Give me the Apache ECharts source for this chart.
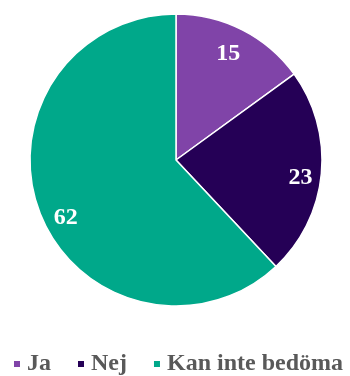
<!DOCTYPE html>
<html>
<head>
<meta charset="utf-8">
<script src="https://cdn.jsdelivr.net/npm/echarts@6/dist/echarts.min.js"></script>
<style>
  html, body { margin: 0; padding: 0; background: #fff; }
  #chart { width: 350px; height: 376px; }
</style>
</head>
<body>
<div id="chart"></div>
<script>
  var categories = ['Ja', 'Nej', 'Kan inte bedöma'];
  var values = [15, 23, 62];
  var colors = ['#8044a8', '#250056', '#00a88a'];
  // small nudges so labels sit where the original put them
  var labelNudge = [[-4, 4], [1, 6], [5, 12]];

  var pieData = categories.map(function (name, i) {
    return { name: name, value: values[i], itemStyle: { color: colors[i] } };
  });
  // transparent ring, only used to place the labels further out
  var labelData = categories.map(function (name, i) {
    return { name: name, value: values[i], label: { offset: labelNudge[i] } };
  });

  var chart = echarts.init(document.getElementById('chart'));
  chart.setOption({
    animation: false,
    legend: {
      data: categories,
      left: 12,
      top: 352,
      width: 345,
      padding: 0,
      icon: 'rect',
      itemWidth: 8,
      itemHeight: 8,
      itemGap: 25,
      textStyle: {
        fontFamily: 'Liberation Serif',
        fontWeight: 'bold',
        fontSize: 24,
        color: '#595959',
        padding: [0, 0, 0, 1]
      }
    },
    series: [
      {
        type: 'pie',
        center: [176, 160],
        radius: 146,
        startAngle: 90,
        clockwise: true,
        silent: true,
        label: { show: false },
        labelLine: { show: false },
        itemStyle: { borderColor: '#fff', borderWidth: 1.5 },
        data: pieData
      },
      {
        type: 'pie',
        center: [176, 160],
        radius: [96, 146],
        startAngle: 90,
        clockwise: true,
        silent: true,
        itemStyle: { color: 'rgba(0,0,0,0)' },
        label: {
          show: true,
          position: 'inside',
          formatter: '{c}',
          color: '#fff',
          fontFamily: 'Liberation Serif',
          fontWeight: 'bold',
          fontSize: 24
        },
        labelLine: { show: false },
        data: labelData
      }
    ]
  });
</script>
</body>
</html>
